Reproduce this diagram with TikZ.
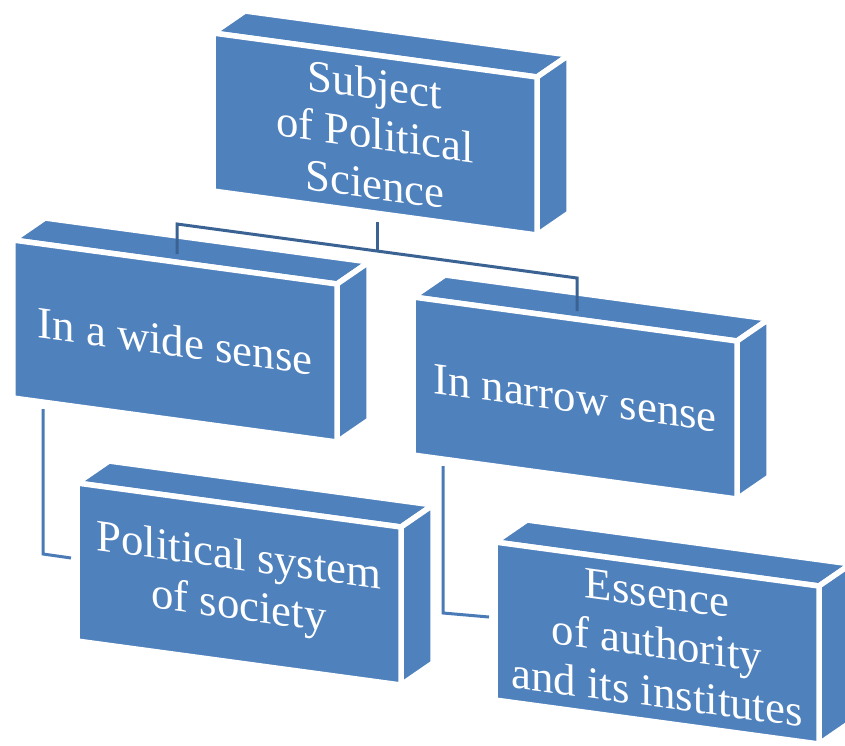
\documentclass[tikz,border=0pt]{standalone}
\usepackage{fontspec}
\setmainfont{Liberation Serif}
\usetikzlibrary{calc}

\definecolor{boxblue}{HTML}{4F81BD}
\definecolor{busblue}{HTML}{3A6393}
\definecolor{legblue}{HTML}{4A7BB7}

\tikzset{
  face/.style={fill=boxblue, draw=white, line width=0.11cm, line join=miter},
  boxtext/.style={text=white, align=center, inner sep=0pt, yslant=-0.136,
    font=\fontsize{25.5}{28.3}\selectfont},
  busline/.style={draw=busblue, line width=0.06cm},
  legline/.style={draw=legblue, line width=0.06cm}
}

% 3d block: name, x, y (front top-left, px), text
\newcommand{\cubebox}[4]{
\begin{scope}[shift={(#2,#3)}]
\path[face] (0,0) -- (32,-22) -- (356,22) -- (324,44) -- cycle;
\path[face] (324,44) -- (356,22) -- (356,180) -- (324,202) -- cycle;
\path[face] (0,0) -- (324,44) -- (324,202) -- (0,158) -- cycle;
\node[boxtext] (#1) at (162,101) {#4};
\coordinate (#1-top) at (164,14);
\coordinate (#1-bot) at (164,189);
\coordinate (#1-leg) at (30,169);
\coordinate (#1-in) at (-6,75);
\end{scope}
}

\begin{document}
\begin{tikzpicture}[x=0.02cm, y=-0.02cm]
%\draw[help lines] (0,0) grid (845,745);
\clip (0,0) rectangle (845,745);
\useasboundingbox (0,0) rectangle (845,745);

\cubebox{subj}{213}{33}{Subject\\of Political\\Science}
\cubebox{wide}{13}{240}{In a wide sense}
\cubebox{narrow}{413}{297}{In narrow sense}
\cubebox{pol}{77}{483}{Political system\\of society}
\cubebox{ess}{495}{542}{Essence\\of authority\\and its institutes}

\coordinate (bus-l) at (177,224);
\coordinate (bus-m) at (377,251);
\coordinate (bus-r) at (577,278);

\draw[busline] (subj-bot) -- (bus-m);
\draw[busline] (wide-top) -- (bus-l) -- (bus-r) -- (narrow-top);

\draw[legline] (wide-leg) -- ($(wide-leg |- pol-in)+(0,-4)$) -- (pol-in);
\draw[legline] (narrow-leg) -- ($(narrow-leg |- ess-in)+(0,-4)$) -- (ess-in);
\end{tikzpicture}
\end{document}
